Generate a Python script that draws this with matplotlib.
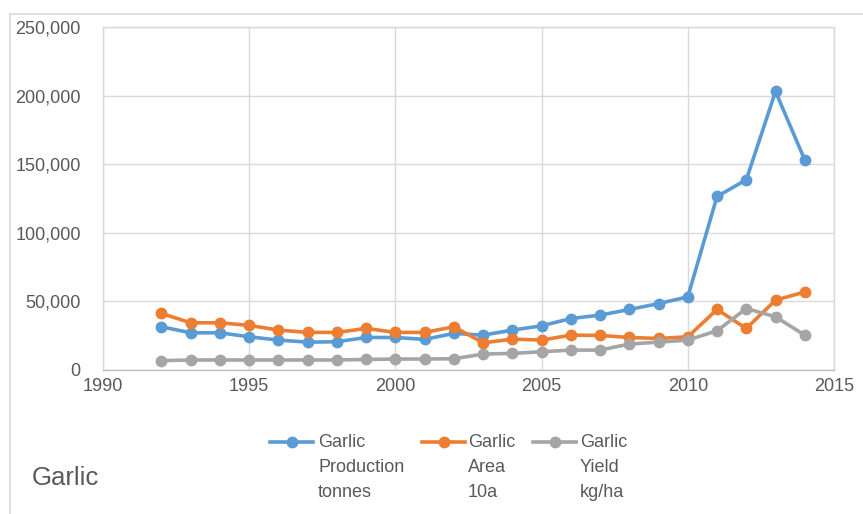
import matplotlib
matplotlib.use("Agg")
import matplotlib.pyplot as plt
from matplotlib.lines import Line2D
from matplotlib.ticker import FuncFormatter, MultipleLocator

plt.rcParams['font.family'] = ['Liberation Sans', 'DejaVu Sans']

years = list(range(1992, 2015))
production = [31500, 27100, 27100, 24200, 21800, 20300, 20600, 23700, 23700, 22300,
              26700, 25400, 29100, 32200, 37500, 40000, 44100, 48400, 53300, 126500,
              138600, 203000, 153100]
area = [41200, 34400, 34400, 32500, 29100, 27400, 27400, 30300, 27400, 27400,
        31500, 19800, 22500, 21800, 25400, 25200, 23700, 23000, 24200, 44100,
        30300, 50900, 56900]
yield_kg = [6800, 7300, 7300, 7300, 7300, 7300, 7300, 7700, 8000, 8000,
            8200, 11600, 12100, 13300, 14500, 14500, 18900, 20300, 21800, 28600,
            44800, 38800, 25400]

series_labels = ["Garlic\nProduction\ntonnes", "Garlic\nArea\n10a", "Garlic\nYield\nkg/ha"]
series_colors = ["#5B9BD5", "#ED7D31", "#A5A5A5"]
chart_title = "Garlic"

W, H = 863, 514
fig = plt.figure(figsize=(W / 100, H / 100), dpi=100)

def fx(px):
    return px / W

def fy(py):
    return 1 - py / H

# outer chart frame
fig.add_artist(Line2D([fx(10), fx(863)], [fy(14), fy(14)], color="#d9d9d9", lw=1.2))
fig.add_artist(Line2D([fx(10), fx(10)], [fy(14), fy(514)], color="#d9d9d9", lw=1.2))

ax = fig.add_axes([fx(103), fy(370), fx(834) - fx(103), fy(27) - fy(370)])

for vals, col in zip([production, area, yield_kg], series_colors):
    ax.plot(years, vals, color=col, lw=2.6, marker="o", markersize=7.5,
            markeredgecolor=col, markerfacecolor=col, zorder=3)

ax.set_xlim(1990, 2015)
ax.set_ylim(0, 250000)
ax.xaxis.set_major_locator(MultipleLocator(5))
ax.yaxis.set_major_locator(MultipleLocator(50000))
ax.yaxis.set_major_formatter(FuncFormatter(lambda v, p: f"{int(v):,}"))
ax.grid(True, color="#d9d9d9", lw=1.0)
ax.set_axisbelow(True)
for side in ["top", "right", "left"]:
    ax.spines[side].set_color("#d9d9d9")
    ax.spines[side].set_linewidth(1.0)
ax.spines["bottom"].set_color("#bfbfbf")
ax.spines["bottom"].set_linewidth(1.0)
ax.tick_params(axis="both", length=0, labelsize=13, labelcolor="#595959")
ax.tick_params(axis="y", pad=16)
ax.tick_params(axis="x", pad=6)

# legend entries: line handle with marker aligned to the first text line
legend_x = [(270, 313, 318), (422, 465, 468), (533, 576, 580)]
for (x0, x1, tx), col, lab in zip(legend_x, series_colors, series_labels):
    fig.add_artist(Line2D([fx(x0), fx(x1)], [fy(442), fy(442)], color=col, lw=2.6))
    fig.add_artist(Line2D([fx((x0 + x1) / 2)], [fy(442)], color=col, marker="o",
                          markersize=7.5, markeredgecolor=col, markerfacecolor=col))
    fig.text(fx(tx), fy(434), lab, fontsize=13, color="#595959", va="top", ha="left",
             linespacing=1.6)

fig.text(fx(32), fy(478), chart_title, fontsize=18.5, color="#595959", va="center", ha="left")

fig.savefig("out.png", dpi=100, facecolor="white")
